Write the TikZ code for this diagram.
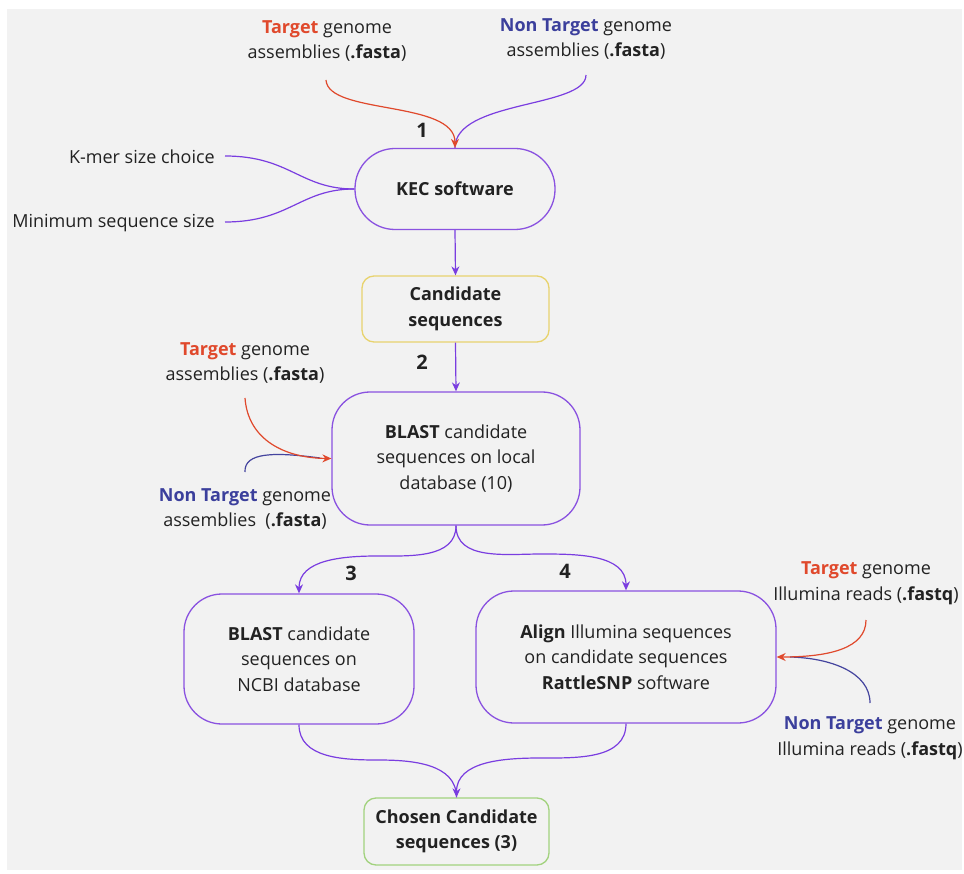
\documentclass[tikz,border=0pt]{standalone}
\usepackage{fontspec}
\setmainfont{Open Sans}
\usetikzlibrary{arrows.meta}
\definecolor{bgc}{HTML}{F2F2F2}
\definecolor{pur}{HTML}{7A3DE0}
\definecolor{boxpur}{HTML}{8A52E0}
\definecolor{redc}{HTML}{E0492C}
\definecolor{bluec}{HTML}{3B3F9C}
\definecolor{bluel}{HTML}{44449E}
\definecolor{yel}{HTML}{E8D36E}
\definecolor{grn}{HTML}{A2D27E}
\definecolor{txt}{HTML}{222222}
\tikzset{
  every node/.style={font=\fontsize{18}{25.5}\selectfont, text=txt, align=center, inner sep=0pt},
  pbox/.style={draw=boxpur, line width=1.3pt, rounded corners=38pt},
  kecbox/.style={draw=boxpur, line width=1.3pt, rounded corners=40pt, minimum width=200pt, minimum height=81pt},
  ybox/.style={draw=yel, line width=1.3pt, rounded corners=12pt, minimum width=187pt, minimum height=66pt},
  gbox/.style={draw=grn, line width=1.3pt, rounded corners=12pt, minimum width=185pt, minimum height=67pt},
  con/.style={draw=pur, line width=1.2pt},
  arr/.style={-{Stealth[length=9pt,width=8pt]}},
  redcon/.style={draw=redc, line width=1.2pt},
  bluecon/.style={draw=bluel, line width=1.2pt},
  num/.style={font=\fontsize{20}{22}\selectfont\bfseries}
}
\newcommand{\tg}{\textcolor{redc}{\textbf{Target}}}
\newcommand{\ntg}{\textcolor{bluec}{\textbf{Non Target}}}
\begin{document}
\begin{tikzpicture}[x=1pt,y=-1pt]
\useasboundingbox (0,0) rectangle (964,874);
\fill[bgc] (7,9) rectangle (962,870);

% top inputs
\node (t1) at (327,41) {\tg{} genome\\assemblies (\textbf{.fasta})};
\node (n1) at (586,39) {\ntg{} genome\\assemblies (\textbf{.fasta})};
\coordinate (t1e) at (326,80);
\coordinate (n1e) at (586,75);

\node[kecbox] (kec) at (455,189) {\textbf{KEC software}};
\node[anchor=east] (kmer) at (215,157) {K-mer size choice};
\node[anchor=east] (mins) at (215,223) {Minimum sequence size};
\coordinate (kmere) at (225,156);
\coordinate (minse) at (225,222);

\node[num] (l1) at (422,130) {1};

\draw[con] (n1e) .. controls (586,108) and (455,100) .. (kec.north);
\draw[redcon,arr] (t1e) .. controls (328,115) and (455,100) .. (kec.north);
\draw[con] (kmere) .. controls (290,156) and (300,189) .. (kec.west);
\draw[con] (minse) .. controls (290,222) and (300,189) .. (kec.west);

\node[ybox] (cand) at (455.5,309) {\textbf{Candidate}\\\textbf{sequences}};
\draw[con,arr] (kec.south) -- (cand.north);

\node[num] (l2) at (422,362) {2};
\node[pbox, minimum width=248pt, minimum height=133pt] (b1) at (456,458.5) {\textbf{BLAST} candidate\\sequences on local\\database (10)};
\draw[con,arr] (cand.south) -- (b1.north);

\node (t2) at (245,363) {\tg{} genome\\assemblies (\textbf{.fasta})};
\node (n2) at (245,509) {\ntg{} genome\\assemblies~ (\textbf{.fasta})};
\coordinate (t2e) at (245,398);
\coordinate (n2e) at (245,472);
\draw[bluecon] (n2e) .. controls (244,452) and (275,452) .. (320,458);
\draw[redcon,arr] (t2e) .. controls (248,440) and (285,458) .. (b1.west);

% split
\node[pbox, minimum width=230pt, minimum height=130pt] (ncbi) at (299,659) {\textbf{BLAST} candidate\\sequences on\\NCBI database};
\node[pbox, minimum width=300pt, minimum height=132pt] (align) at (626,657) {\textbf{Align} Illumina sequences\\on candidate sequences\\\textbf{RattleSNP} software};
\coordinate (sl) at (378,556);
\coordinate (sr) at (541,554);
\draw[con,arr] (b1.south) to[out=-90,in=0] (sl) to[out=180,in=90] (ncbi.north);
\draw[con,arr] (b1.south) to[out=-90,in=180] (sr) to[out=0,in=90] (align.north);
\node[num] (l3) at (351,573) {3};
\node[num] (l4) at (565,571) {4};

% right inputs
\node (t3) at (866,583) {\tg{} genome\\Illumina reads (\textbf{.fastq})};
\node (n3) at (870,738) {\ntg{} genome\\Illumina reads (\textbf{.fastq})};
\coordinate (t3e) at (866,620);
\coordinate (n3e) at (870,703);
\draw[bluecon] (n3e) .. controls (870,672) and (830,658) .. (790,657);
\draw[redcon,arr] (t3e) .. controls (866,648) and (830,657) .. (align.east);

% merge
\node[gbox] (ch) at (456.5,831.5) {\textbf{Chosen Candidate}\\\textbf{sequences (3)}};
\coordinate (ml) at (378,760);
\coordinate (mr) at (541,758);
\draw[con] (ncbi.south) to[out=-90,in=180] (ml) to[out=0,in=90] (ch.north);
\draw[con,arr] (align.south) to[out=-90,in=0] (mr) to[out=180,in=90] (ch.north);
\end{tikzpicture}
\end{document}
